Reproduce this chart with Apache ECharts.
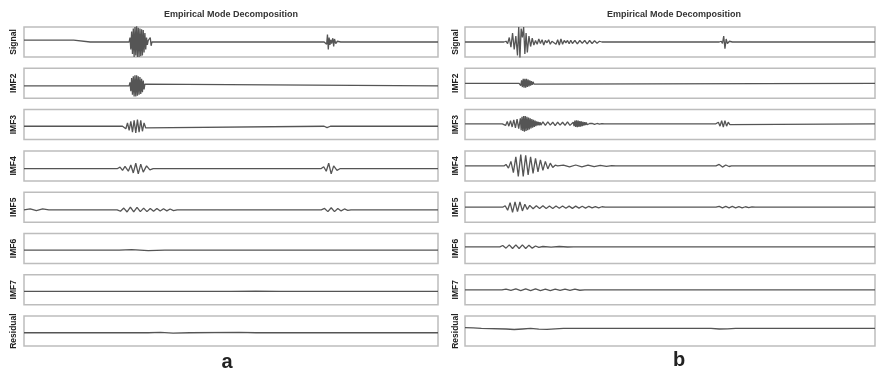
<!DOCTYPE html>
<html>
<head>
<meta charset="utf-8">
<script src="https://cdn.jsdelivr.net/npm/echarts@6/dist/echarts.min.js"></script>
<style>
  html, body { margin: 0; padding: 0; background: #ffffff; }
  #chart { width: 876px; height: 374px; }
</style>
</head>
<body>
<div id="chart"></div>
<script>
// Row labels, top to bottom
const rowNames = ['Signal', 'IMF2', 'IMF3', 'IMF4', 'IMF5', 'IMF6', 'IMF7', 'Residual'];
const panelTitle = 'Empirical Mode Decomposition';
const panelLetters = ['a', 'b'];

// ---- Panel a: [sample, amplitude] ----
const aSignal = [[0,0.12],[120,0.12],[160,0],[254,0],[256,0.3],[258,-0.5],[260,0.7],[262,-0.8],[264,0.9],[266,-1.0],[268,1.0],[270,-0.9],[272,1.15],[274,-1.0],[276,0.95],[278,-1.0],[280,0.9],[282,-0.95],[284,0.85],[286,-0.9],[288,0.8],[290,-0.7],[292,0.6],[294,-0.5],[296,0.3],[298,-0.2],[300,0.1],[302,0],[305,0.3],[307,-0.25],[309,0],[725,0],[729,0.1],[731,-0.15],[733,0.5],[735,-0.5],[737,0.3],[739,-0.2],[741,0.15],[743,-0.1],[746,0.25],[748,-0.3],[750,0.2],[753,-0.1],[757,0.05],[765,0],[1000,0]];
const aImf2 = [[0,0],[254,0],[256,0.2],[258,-0.3],[260,0.45],[262,-0.5],[264,0.55],[266,-0.6],[268,0.6],[270,-0.6],[272,0.6],[274,-0.55],[276,0.55],[278,-0.5],[280,0.5],[282,-0.45],[284,0.4],[286,-0.35],[288,0.3],[290,-0.2],[292,0.1],[294,0],[1000,0]];
const aImf3 = [[0,0],[238,0],[242,0.1],[246,-0.15],[250,0.2],[254,-0.25],[258,0.3],[262,-0.35],[266,0.35],[270,-0.4],[274,0.4],[278,-0.35],[282,0.35],[286,-0.3],[290,0.2],[294,-0.1],[298,0],[725,0],[732,-0.08],[740,0],[1000,0]];
const aImf4 = [[0,0],[226,0],[232,0.08],[238,-0.1],[244,0.12],[252,-0.15],[258,0.2],[264,-0.25],[270,0.3],[276,-0.3],[282,0.25],[288,-0.2],[296,0.15],[304,-0.08],[312,0],[718,0],[724,0.1],[730,-0.15],[736,0.3],[742,-0.3],[748,0.15],[756,-0.1],[764,0],[1000,0]];
const aImf5 = [[0,0],[15,0.05],[30,-0.04],[45,0.05],[60,0],[225,0],[233,-0.08],[241,0.1],[249,-0.12],[257,0.15],[265,-0.12],[273,0.14],[281,-0.1],[289,0.1],[297,-0.1],[305,0.08],[313,-0.08],[321,0.08],[329,-0.07],[337,0.06],[345,-0.06],[353,0.05],[361,-0.04],[370,0],[718,0],[726,0.08],[734,-0.1],[742,0.12],[750,-0.1],[758,0.08],[766,-0.06],[774,0.05],[782,-0.03],[790,0],[1000,0]];
const aImf6 = [[0,0],[230,0],[260,0.03],[300,-0.03],[340,0],[1000,0]];
const aImf7 = [[0,0],[500,0],[560,0.02],[620,0],[1000,0]];
const aResidual = [[0,0],[300,0],[330,0.02],[360,-0.02],[400,0],[520,0.02],[560,0],[1000,0]];

// ---- Panel b: [sample, amplitude] ----
const bSignal = [[0,0],[95,0],[100,0.05],[104,-0.1],[108,0.3],[112,-0.35],[116,0.6],[120,-0.5],[124,0.4],[128,-0.9],[131,1.0],[134,-1.05],[137,0.9],[140,0.3],[143,1.0],[146,-0.8],[149,0.6],[152,-0.7],[156,0.4],[160,-0.3],[164,0.25],[168,-0.2],[172,0.1],[176,-0.15],[180,0.2],[184,-0.1],[188,0.15],[192,-0.2],[196,0.1],[200,-0.05],[204,0.15],[208,-0.15],[212,0.05],[216,0],[222,-0.15],[226,0.15],[230,-0.2],[234,0.2],[238,-0.15],[242,0.1],[246,-0.05],[250,0.1],[254,-0.12],[258,0.12],[262,-0.1],[268,0.1],[274,-0.12],[280,0.1],[286,-0.08],[292,0.1],[298,-0.12],[304,0.1],[310,-0.1],[316,0.08],[322,-0.08],[328,0.05],[334,0],[620,0],[625,0.05],[628,-0.1],[631,0.4],[634,-0.45],[637,0.2],[640,-0.1],[645,0.05],[652,0],[1000,0]];
const bImf2 = [[0,0],[132,0],[134,0.1],[136,-0.15],[138,0.2],[140,-0.25],[142,0.3],[144,-0.3],[146,0.3],[148,-0.3],[150,0.3],[152,-0.25],[154,0.25],[156,-0.2],[158,0.2],[160,-0.15],[162,0.15],[164,-0.1],[166,0.1],[168,-0.05],[170,0.05],[172,0],[1000,0]];
const bImf3 = [[0,0],[91,0],[95,0.05],[99,-0.1],[103,0.15],[107,-0.15],[111,0.2],[115,-0.2],[119,0.25],[123,-0.25],[127,0.3],[131,-0.3],[135,0.35],[137,-0.4],[139,0.45],[141,-0.45],[143,0.5],[145,-0.5],[147,0.5],[149,-0.45],[151,0.45],[153,-0.4],[155,0.4],[157,-0.35],[159,0.35],[161,-0.3],[163,0.3],[165,-0.25],[167,0.25],[169,-0.2],[171,0.2],[173,-0.15],[175,0.15],[177,-0.1],[179,0.12],[181,-0.1],[183,0.1],[185,-0.08],[190,0.12],[196,-0.1],[202,0.12],[208,-0.08],[214,0.1],[220,-0.12],[226,0.1],[232,-0.08],[238,0.1],[244,-0.1],[250,0.12],[256,-0.1],[264,0.1],[266,-0.15],[268,0.2],[270,-0.2],[272,0.22],[274,-0.22],[276,0.2],[278,-0.2],[280,0.18],[282,-0.18],[284,0.15],[286,-0.15],[288,0.12],[290,-0.12],[292,0.1],[294,-0.08],[296,0.08],[298,-0.06],[300,0.05],[302,-0.04],[304,0.02],[306,0],[310,0.03],[316,-0.03],[322,0.02],[328,-0.02],[334,0.01],[340,0],[612,0],[618,0.1],[622,-0.15],[626,0.2],[630,-0.2],[634,0.2],[638,-0.15],[642,0.1],[646,-0.05],[650,0],[1000,0]];
const bImf4 = [[0,0],[95,0],[100,0.1],[106,-0.15],[112,0.3],[118,-0.45],[124,0.6],[130,-0.7],[136,0.75],[142,-0.7],[148,0.7],[154,-0.6],[160,0.6],[166,-0.5],[172,0.5],[178,-0.4],[184,0.4],[190,-0.3],[196,0.3],[202,-0.2],[208,0.18],[214,-0.1],[220,0.05],[226,0],[240,0.05],[255,-0.06],[270,0.06],[285,-0.06],[300,0.05],[315,-0.05],[330,0.04],[345,-0.03],[358,0.02],[368,0],[612,0],[620,0.1],[628,-0.08],[636,0.06],[644,-0.04],[650,0],[1000,0]];
const bImf5 = [[0,0],[92,0],[98,0.1],[104,-0.2],[110,0.3],[116,-0.35],[122,0.35],[128,-0.3],[134,0.35],[140,-0.25],[146,0.2],[152,-0.15],[158,0.12],[166,-0.1],[174,0.1],[182,-0.08],[190,0.1],[198,-0.08],[206,0.08],[214,-0.08],[222,0.08],[230,-0.07],[238,0.08],[246,-0.07],[254,0.07],[262,-0.08],[270,0.07],[278,-0.06],[286,0.06],[294,-0.06],[302,0.06],[310,-0.05],[318,0.04],[326,-0.04],[334,0.03],[342,0],[612,0],[620,0.06],[628,-0.05],[636,0.05],[644,-0.05],[652,0.05],[660,-0.04],[668,0.04],[676,-0.04],[684,0.03],[692,-0.03],[700,0.02],[708,0],[1000,0]];
const bImf6 = [[0,0],[85,0],[92,0.08],[100,-0.08],[108,0.12],[116,-0.1],[124,0.12],[132,-0.1],[140,0.12],[148,-0.1],[156,0.1],[164,-0.08],[172,0.05],[180,-0.03],[190,0.02],[210,-0.02],[230,0.02],[250,-0.01],[265,0],[1000,0]];
const bImf7 = [[0,0],[90,0],[100,0.05],[112,-0.04],[124,0.06],[136,-0.05],[148,0.06],[160,-0.05],[172,0.06],[184,-0.05],[196,0.05],[208,-0.05],[220,0.05],[232,-0.04],[244,0.05],[256,-0.04],[268,0.04],[280,-0.03],[292,0],[1000,0]];
const bResidual = [[0,0.05],[20,0.03],[40,0],[100,-0.03],[120,-0.06],[140,-0.03],[160,0],[180,-0.04],[200,-0.05],[220,-0.02],[240,0],[600,0],[620,-0.03],[640,-0.02],[660,0],[1000,0]];

const panelA = [aSignal, aImf2, aImf3, aImf4, aImf5, aImf6, aImf7, aResidual];
const panelB = [bSignal, bImf2, bImf3, bImf4, bImf5, bImf6, bImf7, bResidual];

// Vertical extent of each row's axis
const yRangeA = [[-1,1],[-0.7,1],[-0.8,1],[-0.7,1],[-0.7,1],[-0.8,1],[-0.8,1],[-0.8,1]];
const yRangeB = [[-1,1],[-1,1],[-1,0.9],[-1,1],[-1,1],[-1,0.8],[-1,1],[-1,0.7]];

// Layout of the two columns of stacked strips
const panels = [
  { rows: panelA, ranges: yRangeA, left: 24, width: 414, nameGap: 6, center: 231 },
  { rows: panelB, ranges: yRangeB, left: 465, width: 410, nameGap: 5, center: 674 }
];
const rowTop = 27, rowStep = 41.3, rowHeight = 30;
const font = 'Liberation Sans, Arial, sans-serif';

const grid = [], xAxis = [], yAxis = [], series = [];
panels.forEach(function (p) {
  p.rows.forEach(function (data, r) {
    const idx = grid.length;
    grid.push({
      left: p.left, width: p.width, top: rowTop + r * rowStep, height: rowHeight,
      show: true, borderColor: '#bdbdbd', borderWidth: 1.5, backgroundColor: 'transparent'
    });
    xAxis.push({
      type: 'value', gridIndex: idx, min: 0, max: 1000, show: false
    });
    yAxis.push({
      type: 'value', gridIndex: idx, min: p.ranges[r][0], max: p.ranges[r][1],
      name: rowNames[r], nameLocation: 'middle', nameRotate: 90, nameGap: p.nameGap,
      nameTextStyle: { fontFamily: font, fontWeight: 'bold', fontSize: 8.5, color: '#222' },
      axisLine: { show: false }, axisTick: { show: false },
      axisLabel: { show: false }, splitLine: { show: false }
    });
    series.push({
      type: 'line', xAxisIndex: idx, yAxisIndex: idx, data: data,
      showSymbol: false, symbol: 'none', clip: true,
      lineStyle: { color: '#555555', width: 1.3 }
    });
  });
});

const graphic = [];
panels.forEach(function (p) {
  graphic.push({
    type: 'text', x: p.center, y: 15,
    style: { text: panelTitle, font: 'bold 9px ' + font, fill: '#333', textAlign: 'center', textVerticalAlign: 'middle' }
  });
});
graphic.push({
  type: 'text', x: 227, y: 362,
  style: { text: panelLetters[0], font: 'bold 20px ' + font, fill: '#222', textAlign: 'center', textVerticalAlign: 'middle' }
});
graphic.push({
  type: 'text', x: 679, y: 360,
  style: { text: panelLetters[1], font: 'bold 20px ' + font, fill: '#222', textAlign: 'center', textVerticalAlign: 'middle' }
});

const chart = echarts.init(document.getElementById('chart'), null, { renderer: 'canvas' });
chart.setOption({
  animation: false,
  backgroundColor: '#ffffff',
  grid: grid, xAxis: xAxis, yAxis: yAxis, series: series, graphic: graphic
});
</script>
</body>
</html>
